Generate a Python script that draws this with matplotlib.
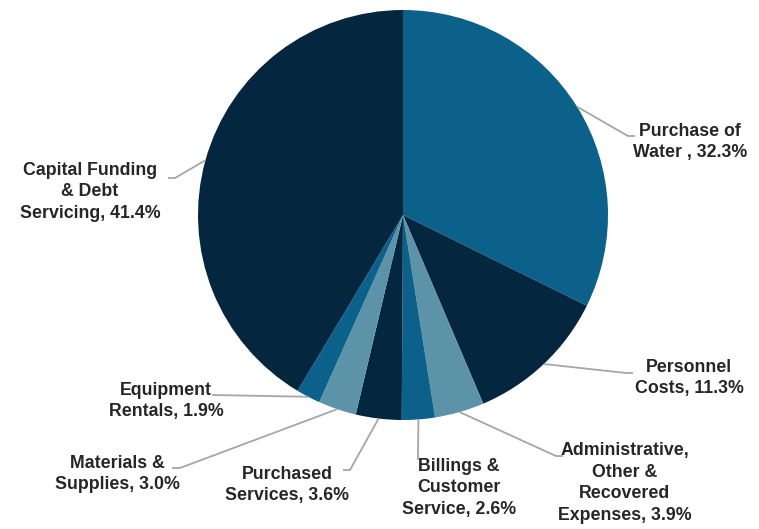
import numpy as np
import matplotlib
matplotlib.use("Agg")
import matplotlib.pyplot as plt

labels = ["Purchase of\nWater , 32.3%", "Personnel\nCosts, 11.3%",
          "Administrative,\nOther &\nRecovered\nExpenses, 3.9%",
          "Billings &\nCustomer\nService, 2.6%", "Purchased\nServices, 3.6%",
          "Materials &\nSupplies, 3.0%", "Equipment\nRentals, 1.9%",
          "Capital Funding\n& Debt\nServicing, 41.4%"]
shares = [32.3, 11.3, 3.9, 2.6, 3.6, 3.0, 1.9, 41.4]

MID = "#0b6189"
DARK = "#05263f"
LIGHT = "#5d93a8"
colors = [MID, DARK, LIGHT, MID, DARK, LIGHT, MID, DARK]

# label text centre and leader line elbow / end (pixel coords, y down)
label_pos = [(690, 142), (689, 378), (625, 483), (459, 488),
             (287, 485), (117, 474), (166, 401), (90, 192)]
elbows = [(628, 136), (626, 373), (556, 456), (418, 455),
          (350, 470), (180, 468), (212, 395), (175, 178)]
ends = [(635, 136), (633, 373), (563, 456), (418, 460),
        (343, 470), (172, 468), (212, 395), (168, 178)]

W, H = 759, 529
cx, cy, R = 403, H - 215, 205

plt.rcParams['font.family'] = ['Liberation Sans', 'DejaVu Sans']
fig = plt.figure(figsize=(W / 100, H / 100), dpi=100)
ax = fig.add_axes([0, 0, 1, 1])

wedges, _ = ax.pie(shares, colors=colors, startangle=90, counterclock=False,
                   center=(cx, cy), radius=R, frame=True,
                   wedgeprops=dict(linewidth=0))
ax.set_xlim(0, W)
ax.set_ylim(0, H)
ax.set_aspect('equal')
ax.axis('off')

for w, lab, (tx, ty), (ex, ey), (fx, fy) in zip(wedges, labels, label_pos, elbows, ends):
    ang = np.deg2rad((w.theta1 + w.theta2) / 2)
    sx = cx + R * np.cos(ang)
    sy = cy + R * np.sin(ang)
    ax.plot([sx, ex, fx], [sy, H - ey, H - fy], color="#a6a6a6", lw=1.3,
            solid_capstyle='butt', zorder=1)
    ax.text(tx, H - ty, lab, ha='center', va='center', fontsize=12.8,
            fontweight='bold', color="#262626", linespacing=1.38)

fig.savefig("out.png", dpi=100)
